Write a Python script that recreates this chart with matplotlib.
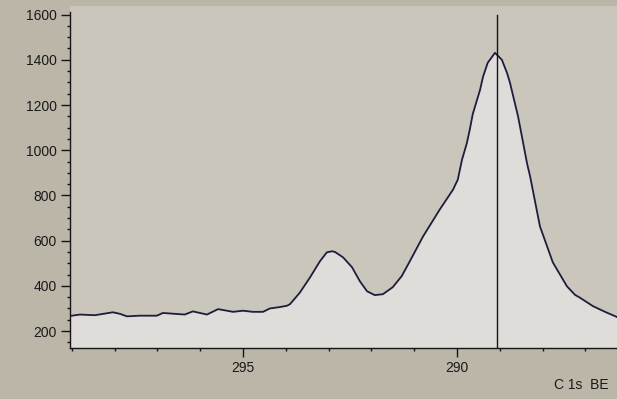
import numpy as np
import matplotlib
matplotlib.use("Agg")
from matplotlib import pyplot as plt
from matplotlib.ticker import MultipleLocator

plt.rcParams['font.family'] = ['Liberation Sans', 'DejaVu Sans']

# C 1s region, binding energy (eV) vs counts
energy = [299.04, 298.99, 298.81, 298.46, 298.04, 297.87, 297.71, 297.41,
          297.01, 296.87, 296.36, 296.17, 295.84, 295.58, 295.23, 295.00,
          294.77, 294.53, 294.37, 294.14, 293.97, 293.90, 293.67, 293.43,
          293.20, 293.04, 292.92, 292.85, 292.66, 292.45, 292.27, 292.10,
          291.92, 291.73, 291.50, 291.29, 291.10, 290.79, 290.40, 290.09,
          289.98, 289.88, 289.77, 289.70, 289.63, 289.46, 289.39, 289.28,
          289.11, 288.95, 288.83, 288.76, 288.57, 288.36, 288.29, 288.06,
          287.76, 287.43, 287.24, 287.13, 286.82, 286.54, 286.26]
counts = [268, 268, 273, 270, 283, 276, 265, 268,
          268, 280, 273, 287, 273, 297, 285, 290,
          285, 285, 300, 306, 312, 319, 370, 438,
          509, 548, 553, 550, 526, 482, 421, 376,
          359, 363, 394, 443, 509, 619, 738, 826,
          870, 959, 1030, 1091, 1160, 1267, 1325, 1387,
          1431, 1400, 1342, 1298, 1148, 940, 884, 663,
          504, 398, 360, 348, 310, 285, 262]

cursor_be = 289.07
x_range = (299.04, 286.26)
y_range = (125, 1638)

fig = plt.figure(figsize=(6.17, 3.99), dpi=100, facecolor='#bcb6a9')
ax = fig.add_axes([70/617, 1 - 348/399, 1 - 70/617, (348 - 6)/399])
ax.set_facecolor('#cac6bc')

ax.fill_between(energy, counts, y_range[0], color='#dfdcda', lw=0)
ax.plot(energy, counts, color='#1d1d3c', lw=1.3, solid_joinstyle='round')
ax.plot([cursor_be, cursor_be], [y_range[0], 1600], color='#151515', lw=1.0)

ax.set_xlim(*x_range)
ax.set_ylim(*y_range)

for s in ['top', 'right']:
    ax.spines[s].set_visible(False)
ax.spines['left'].set_bounds(y_range[0], 1610)
for s in ['left', 'bottom']:
    ax.spines[s].set_color('#151515')
    ax.spines[s].set_linewidth(1.0)

ax.xaxis.set_major_locator(MultipleLocator(5))
ax.xaxis.set_minor_locator(MultipleLocator(1))
ax.yaxis.set_major_locator(MultipleLocator(200))
ax.yaxis.set_minor_locator(MultipleLocator(50))
ax.set_yticks([200, 400, 600, 800, 1000, 1200, 1400, 1600])
ax.tick_params(which='major', length=6.5, width=1.0, color='#151515',
               labelsize=10, labelcolor='#1a1a1a', pad=3)
ax.tick_params(which='minor', length=2.5, width=1.0, color='#151515')

fig.text(554/617, 1 - 385/399, 'C 1s  BE', fontsize=10, color='#1a1a1a',
         va='center', ha='left')

fig.savefig('out.png', dpi=100, facecolor=fig.get_facecolor())
